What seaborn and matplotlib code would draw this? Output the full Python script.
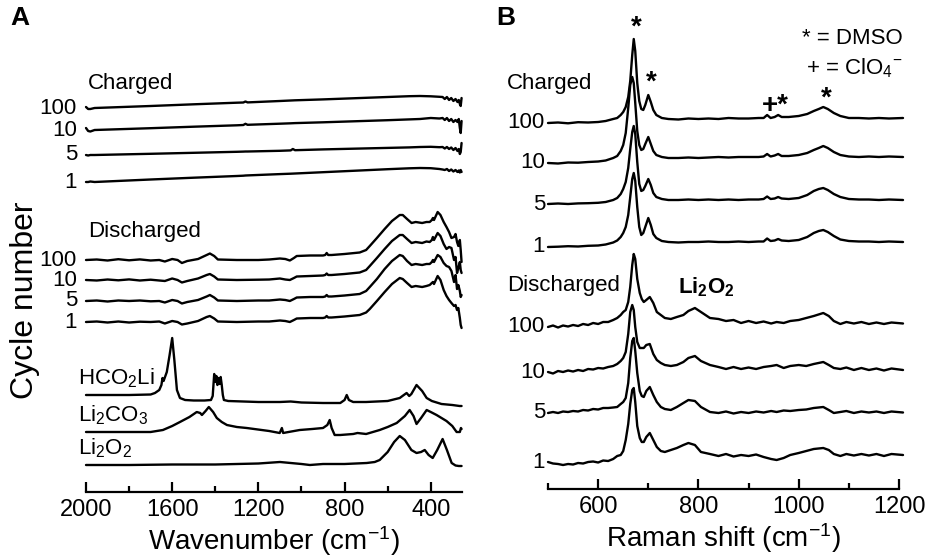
import numpy as np
import matplotlib
matplotlib.use("Agg")
import matplotlib.pyplot as plt
import seaborn as sns

sns.set_style("white")
plt.rcParams['font.family'] = ['Liberation Sans', 'DejaVu Sans']
plt.rcParams['mathtext.fontset'] = 'custom'
plt.rcParams['mathtext.rm'] = 'Liberation Sans'
plt.rcParams['mathtext.it'] = 'Liberation Sans:italic'
plt.rcParams['mathtext.bf'] = 'Liberation Sans:bold'
plt.rcParams['text.color'] = 'black'
plt.rcParams['axes.labelcolor'] = 'black'
plt.rcParams['xtick.color'] = 'black'

# ---------------- panel A : FTIR (wavenumber, intensity in a.u.) ----------------
cycles = ["100", "10", "5", "1"]

chgA_w = [2000, 1990, 1980, 1960, 1700, 1500, 1300, 1270, 1260, 1250, 1100, 1050, 1040, 1030,
          900, 800, 700, 600, 500, 450, 400, 360, 345, 335, 325, 315, 305, 295, 285, 276,
          270, 265, 261, 257]
chgA = {
    "100": [1, -1, -1, 0, 2, 3.7, 5.3, 5.5, 6.5, 5.6, 7, 7.5, 7.6, 7.7, 8.6, 9.4, 10.2, 11,
            11.8, 12, 11.7, 11.2, 11, 9, 11, 8, 10, 7, 9, 6, 8, 4, 2, 10],
    "10": [2, -1, -1.5, 0, 1.8, 3.3, 4.7, 5, 6.2, 5.2, 6.3, 6.7, 6.8, 6.9, 7.7, 8.4, 9.1, 9.8,
           10.6, 11, 12, 11.5, 12, 10, 12, 9, 11, 8, 10, 8, 11, 2, -3, 9],
    "5": [0, -0.5, 0, 0, 1.2, 2.2, 3.2, 3.4, 3.5, 3.5, 4.2, 4.6, 6, 4.8, 5.6, 6.1, 6.6, 7.1,
          7.6, 8, 8.2, 7.8, 8, 6.5, 8, 6, 7.5, 5, 7, 4, 6, 1, 3, 12],
    "1": [0, 0, 0.5, 0, 2.5, 4.3, 6, 6.3, 6.5, 6.6, 7.9, 8.3, 8.4, 8.5, 9.8, 10.8, 11.8, 12.8,
          13.7, 14, 13.8, 13, 12.5, 12, 13, 11, 12.5, 10.5, 12, 10, 11.5, 9.5, 12, 10],
}
chgA_off = [450, 428, 403, 376]

disA_w = [2000, 1950, 1900, 1850, 1800, 1750, 1700, 1660, 1634, 1600, 1575, 1555, 1530,
          1480, 1440, 1425, 1405, 1388, 1300, 1200, 1150, 1100, 1075, 1054, 1035, 1022,
          960, 900, 890, 883, 876, 860, 800, 730, 700, 683, 650, 614, 580, 544,
          530, 510, 489, 470, 440, 420, 405, 395, 390, 385, 368, 355, 340, 327,
          315, 304, 292, 285, 278, 272, 265, 261, 257]
disA = {
    "100": [0, 0.5, -0.5, 0.8, -0.3, 0.6, -0.5, 0, -1.5, 1, 0, -3, -1,
            1, 5, 6.5, 4, 0.5, 0, 0, 0.5, 1.5, 1, -0.5, 2, 4,
            4.5, 4.5, 5, 7, 5, 5, 6, 7.5, 10, 14, 22, 31, 39, 45,
            45, 41, 37, 38, 37, 38, 38, 40, 42, 40, 48, 45, 38, 33,
            28, 22, 23, 26, 18, 14, 20, 10, -2],
    "10": [0, -0.5, 0.5, -0.3, 0.6, -0.5, 0.3, -0.5, -1, 1.5, 0, -2.5, -1,
           1.5, 5, 6, 3.5, 0.5, 0, 0.3, 0.5, 1.5, 0.5, 0, 2, 3.5,
           4, 4.5, 5, 6.5, 5, 5, 6, 7.5, 10, 14, 22, 31, 39, 45,
           45, 41, 37, 38, 37, 38.5, 38, 40, 43, 40, 47, 44, 36, 31,
           33, 32, 20, 23, 7, 12, 18, 10, 7],
    "5": [0, 0.5, -0.5, 0.5, 0, 0.5, -0.3, 0, -1.5, 1, 0, -2.5, -1,
          1, 4.5, 6, 3.5, 0.5, 0, 0.5, 0.5, 1.5, 1, 0, 2, 3.5,
          4, 4, 4.5, 6, 4.5, 4.5, 5.5, 7, 10, 14, 22, 32, 40, 46,
          45, 40, 36, 37, 36, 37, 37, 39, 41, 39, 46, 44, 38, 35,
          34, 30, 19, 26, 12, 16, 10, 4, 6],
    "1": [0, 0.5, -0.5, 0.5, -0.5, 0.3, 0, 0.5, -1.5, 1, 0, -2.5, -1.5,
          1, 5, 6, 3.5, 0.5, 0, 0.5, 0.5, 1.5, 1, 0, 2, 3.5,
          4, 4, 4.5, 6, 4.5, 4.5, 5.5, 7, 9.5, 13, 21, 30, 38, 44,
          43, 39, 35, 36, 35, 36, 37, 39, 40, 38, 46, 42, 32, 26,
          22, 19, 16, 17, 12, 14, 4, -3, -6],
}
disA_off = [298, 278, 257, 236]

formate_w = [2000, 1900, 1800, 1700, 1680, 1660, 1650, 1645, 1640, 1625, 1612, 1600,
             1590, 1578, 1564, 1540, 1500, 1450, 1420, 1412, 1405, 1400, 1395, 1390, 1385,
             1380, 1375, 1370, 1365, 1360, 1340, 1200, 1100, 1050, 1000, 900, 820, 800,
             790, 780, 760, 700, 600, 544, 525, 512, 500, 490, 466, 440, 419, 395, 380,
             350, 300, 266, 257]
formate = [0, 0, 0, 0.5, 2, 5, 10, 17, 14, 23, 40, 57, 35, 5, -3, -5, -5.5, -5.5, -5, -1,
           21, 13, 19, 10, 17, 11, 18, 10, 0, -5, -6, -7, -7, -6.5, -7.5, -8, -8, -5, 0,
           -5, -7, -7, -6, -3, 0, 2, -1, 1, 10, 4, -3, -6, -7, -9, -10, -11, -11]

carb_w = [2000, 1800, 1700, 1643, 1600, 1564, 1520, 1486, 1470, 1462, 1445, 1430, 1410,
          1393, 1370, 1346, 1300, 1254, 1150, 1101, 1091, 1085, 1060, 1008, 950, 900, 880,
          869, 860, 846, 820, 760, 740, 700, 637, 600, 558, 520, 498, 480, 466, 445, 419,
          400, 373, 350, 327, 300, 280, 265, 260, 257]
carb = [0, 0, 0, 2, 6, 10, 15, 20, 19, 17, 21, 25, 20, 14, 10, 7, 5, 4, 1, -1, 4, -1, 0,
        2, 3, 4, 7, 12, 4, -3, -3, -2, -1, -2, 2, 5, 9, 16, 22, 16, 8, 14, 22, 20, 17, 14,
        11, 6, 0, 0, 4, 3]

perox_w = [2000, 1800, 1600, 1400, 1200, 1100, 1000, 961, 900, 800, 697, 660, 637, 600,
           570, 544, 520, 490, 466, 445, 428, 410, 391, 370, 345, 325, 303, 285, 270, 257]
perox = [0, 0, 0.5, 0.5, 1.5, 3, 1, 0, 1, 1, 2, 3, 5, 13, 23, 29, 25, 15, 12, 13, 15, 10,
         7, 15, 26, 15, 2, -0.5, -1, -1]

ref_names = [r"HCO$_2$Li", r"Li$_2$CO$_3$", r"Li$_2$O$_2$"]
ref_off = [163, 126, 93]

# ---------------- panel B : Raman (shift, intensity in a.u.) ----------------
chgB_w = [500, 520, 540, 560, 580, 600, 615, 630, 638, 645, 650, 655, 660, 664, 668, 671,
          674, 678, 682, 686, 690, 694, 700, 705, 710, 716, 727, 740, 760, 780, 800, 820,
          840, 860, 880, 900, 920, 930, 937, 944, 952, 959, 966, 980, 1000, 1017, 1030,
          1040, 1049, 1058, 1070, 1083, 1100, 1120, 1140, 1160, 1180, 1208]
chgB = {
    "100": [0, 0.5, -0.3, 0.8, 0.5, 1, 2, 4, 5, 8, 11, 16, 26, 42, 68, 84, 72,
            40, 22, 14, 13, 18, 28, 21, 13, 8, 5, 4, 3.5, 4.5, 4, 4.5, 4, 5, 4.5, 4.5, 5,
            5, 8, 5, 6, 8, 6, 6, 7, 9, 12, 14, 16, 14, 10, 7, 5, 5, 4.5, 5, 4.5, 5],
    "10": [0, -0.5, 0.5, 0.3, 1, 1.5, 2.5, 5, 7, 12, 18, 30, 55, 78, 86, 80, 60,
           32, 18, 13, 14, 19, 26, 19, 12, 8, 6, 5, 5, 5.5, 5, 5.5, 6, 5.5, 6, 6, 6,
           6.5, 9, 6.5, 7.5, 9, 7, 7, 8, 10, 13, 15, 17, 15, 11, 8, 6.5, 6, 6.5, 6, 6.5, 6],
    "5": [0, 0.5, 0, 0.6, 0.8, 1.2, 2, 4, 6, 10, 15, 22, 36, 55, 72, 78, 70,
          42, 20, 13, 14, 18, 25, 19, 11, 7, 5, 4, 4, 4.5, 4, 4.5, 4, 4.5, 4, 4.5, 4.5,
          5, 7.5, 5, 5.5, 7, 5.5, 5, 6, 9, 13, 15, 16, 14, 10, 7, 5, 4.5, 4.5, 4, 4.5, 4],
    "1": [0, 0.3, 0.8, 0.5, 1.2, 1.5, 2.5, 4.5, 6.5, 10, 14, 20, 32, 50, 68, 74, 66,
          40, 20, 12, 14, 20, 29, 22, 13, 9, 6, 5, 4.5, 5, 5, 5.5, 5, 5, 5.5, 5, 5.5,
          5.5, 8.5, 6, 6.5, 8, 6.5, 6, 7, 10, 14, 16, 17, 15, 11, 7.5, 6, 5.5, 5.5, 5, 5.5, 5],
}
chgB_off = [435, 395, 354, 311]

disB_w = [500, 510, 520, 530, 540, 550, 560, 570, 580, 590, 600, 610, 620, 630,
          638, 645, 650, 655, 660, 664, 668, 671, 674, 678, 683, 687, 691, 696, 703, 710,
          717, 725, 733, 745, 757, 770, 780, 793, 805, 823, 840, 855, 870, 885, 900, 915,
          930, 945, 956, 970, 983, 1000, 1015, 1030, 1049, 1060, 1070, 1083, 1095, 1110,
          1125, 1140, 1155, 1170, 1185, 1208]
disB = {
    "100": [0, 1.5, -0.5, 1.5, 0.5, 2, 1, 3, 2, 4, 3, 5, 5, 7,
            9, 12, 15, 17, 25, 40, 62, 73, 68, 48, 34, 28, 25, 27, 30, 24,
            15, 12, 9, 8, 10, 12, 16, 19, 15, 9, 8, 6, 7, 4, 6, 4,
            5.5, 3.5, 5, 4, 6, 7, 9, 11, 14, 11, 6, 3, 5, 3.5, 5, 3, 4.5, 3, 4.5, 3.5],
    "10": [0, -1.5, 1, 0, 1.5, 0.5, 2, 1, 3, 2.5, 4, 3.5, 5, 6,
           8, 11, 14, 20, 38, 60, 67, 62, 45, 30, 24, 24, 24, 27, 28, 18,
           12, 9, 7, 6, 7, 10, 14, 16, 11, 7, 5, 3, 5, 3, 4.5, 3,
           5, 6, 7, 4, 6, 7, 6, 8, 10, 7, 4, 3, 4.5, 2, 4, 2, 3.5, 1.5, 3.5, 2],
    "5": [0, 1, 0, 1.5, 1, 2, 1.5, 3, 2.5, 4, 3.5, 5, 5, 5.5,
          6, 9, 11, 15, 30, 55, 72, 75, 62, 40, 22, 17, 16, 22, 26, 18,
          11, 6, 4, 3, 6, 10, 13, 12, 6, 1, 0, 1.5, -0.5, 1, 0, 1.5,
          0.5, 2, 1, 2.5, 2, 3, 3.5, 5, 6, 3, 0, 1, 2, 0, 1.5, 0.5, 1.5, 0, 1.5, 0.5],
    "1": [0, -1.5, -2, -3, -2, -2.5, -1, -1.5, 0, 0.5, -0.5, 1.5, 1, 3,
          6, 7, 11, 22, 38, 58, 72, 74, 60, 36, 24, 20, 20, 25, 29, 22,
          15, 11, 10, 12, 14, 17, 19, 17, 10, 8, 6, 8, 5.5, 7, 6, 7.5,
          5, 3, 2, 4, 7, 9, 11, 13, 14, 12, 8, 6, 8, 6.5, 8, 6.5, 8, 6, 8, 7],
}
disB_off = [231, 186, 145, 96]

# ---------------- figure ----------------
fig = plt.figure(figsize=(9.25, 5.58), dpi=100)
axA = fig.add_axes([86 / 925, 66 / 558, 376 / 925, 492 / 558])
axB = fig.add_axes([548 / 925, 69 / 558, 351 / 925, 489 / 558])

LW = 1.7
TXT = 16


def trace(ax, w, vals, off):
    sns.lineplot(x=np.array(w), y=off + np.array(vals, dtype=float), ax=ax,
                 color="black", lw=LW, sort=False, estimator=None)


for c, off in zip(cycles, chgA_off):
    trace(axA, chgA_w, chgA[c], off)
    axA.text(2042, off, c, ha="right", va="center", fontsize=TXT)
for c, off in zip(cycles, disA_off):
    trace(axA, disA_w, disA[c], off)
    axA.text(2042, off, c, ha="right", va="center", fontsize=TXT)
for w, v, off, name in zip([formate_w, carb_w, perox_w], [formate, carb, perox],
                           ref_off, ref_names):
    trace(axA, w, v, off)
    axA.text(2037, off + 17, name, ha="left", va="center", fontsize=TXT)

axA.text(1991, 475, "Charged", ha="left", va="center", fontsize=TXT)
axA.text(1991, 326, "Discharged", ha="left", va="center", fontsize=TXT)

for c, off in zip(cycles, chgB_off):
    trace(axB, chgB_w, chgB[c], off)
    axB.text(494, off, c, ha="right", va="center", fontsize=TXT)
for c, off in zip(cycles, disB_off):
    trace(axB, disB_w, disB[c], off)
    axB.text(494, off, c, ha="right", va="center", fontsize=TXT)

axB.text(418, 475, "Charged", ha="left", va="center", fontsize=TXT)
axB.text(418, 273, "Discharged", ha="left", va="center", fontsize=TXT)
axB.text(815, 271, r"$\mathbf{Li_2O_2}$", ha="center", va="center", fontsize=TXT)

star = dict(ha="center", va="center", fontsize=20, fontweight="bold")
axB.text(677, 530, "*", **star)
axB.text(705, 475, "*", **star)
axB.text(953, 452, "+*", **star)
axB.text(1054, 459, "*", **star)
axB.text(1208, 520, "* = DMSO", ha="right", va="center", fontsize=TXT)
axB.text(1208, 490, r"+ = ClO$_4$$^{-}$", ha="right", va="center", fontsize=TXT)

for ax in (axA, axB):
    for ln in ax.get_lines():
        ln.set_clip_on(False)
    ax.set_yticks([])
    ax.set_ylabel("")
    sns.despine(ax=ax, left=True)
    ax.spines["bottom"].set_linewidth(1.6)
    ax.spines["bottom"].set_color("black")
    ax.tick_params(axis="x", which="both", bottom=True, direction="in", width=1.6,
                   labelsize=17, pad=5, color="black")
    ax.tick_params(axis="x", which="major", length=7)
    ax.tick_params(axis="x", which="minor", length=4)

axA.set_xlim(2000, 255)
axA.set_ylim(66, 558)
axA.set_xticks([2000, 1600, 1200, 800, 400])
axA.set_xticks([1800, 1400, 1000, 600], minor=True)
axA.set_xlabel(r"Wavenumber (cm$^{-1}$)", fontsize=20, labelpad=2)

axB.set_xlim(500, 1200)
axB.set_ylim(69, 558)
axB.set_xticks([600, 800, 1000, 1200])
axB.set_xticks([500, 700, 900, 1100], minor=True)
axB.set_xlabel(r"Raman shift (cm$^{-1}$)", fontsize=20, labelpad=2)

fig.text(25 / 925, 1 - 300 / 558, "Cycle number", rotation=90, ha="center", va="center",
         fontsize=23)
fig.text(20 / 925, 1 - 18 / 558, "A", ha="center", va="center", fontsize=19,
         fontweight="bold")
fig.text(506 / 925, 1 - 18 / 558, "B", ha="center", va="center", fontsize=19,
         fontweight="bold")

fig.savefig("out.png", dpi=100)
